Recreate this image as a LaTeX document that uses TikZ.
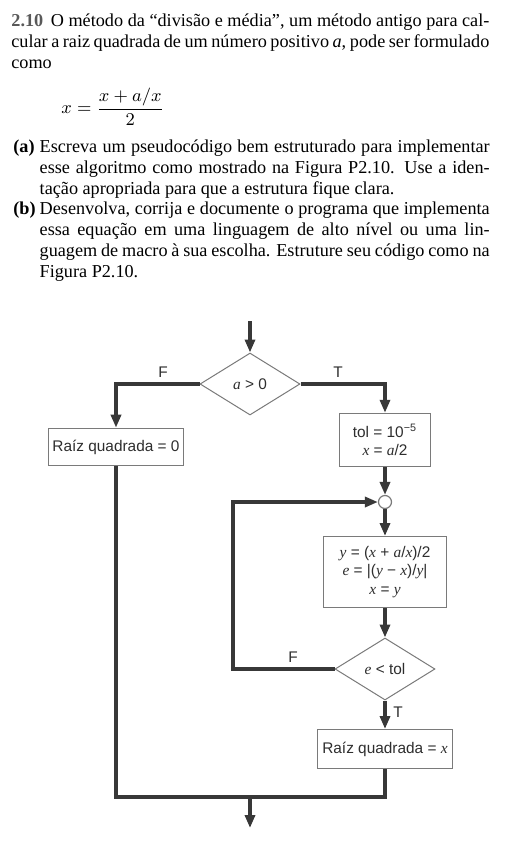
\documentclass[tikz,border=0pt]{standalone}
\usepackage{fontspec}
\setmainfont{Liberation Serif}
\setsansfont{Liberation Sans}
\usepackage{amsmath}
\usepackage{xcolor}
\usetikzlibrary{arrows.meta}
\usetikzlibrary{shapes.geometric}
\definecolor{linegray}{HTML}{383838}
\definecolor{boxgray}{HTML}{7A7A7A}
\definecolor{txtgray}{HTML}{2E2E2E}
\newcommand{\fv}[1]{{\rmfamily\itshape #1}}
\newcommand{\bodyfont}{\fontsize{9.1}{10.5}\selectfont}
\newcommand{\chartfont}{\sffamily\fontsize{7.7}{9.3}\selectfont}

\begin{document}
\begin{tikzpicture}[x=.5pt, y=-.5pt,
  flow/.style={linegray, line width=1.75pt, -{Triangle[length=6.5pt,width=5pt]}},
  plain/.style={linegray, line width=1.75pt},
  procbox/.style={draw=boxgray, line width=.5pt, fill=white, align=center, inner sep=2pt, font=\chartfont, text=txtgray},
  decision/.style={diamond, draw=boxgray, line width=.5pt, fill=white, inner sep=0pt, minimum width=50pt, minimum height=31pt, font=\chartfont, text=txtgray},
  junction/.style={circle, draw=boxgray, line width=.6pt, fill=white, inner sep=0pt, minimum size=6.5pt},
  branch/.style={font=\chartfont, text=txtgray, inner sep=0pt},
  para/.style={anchor=base west, inner sep=0pt, align=justify, font=\bodyfont}]
\useasboundingbox (0,0) rectangle (511,842);

% enunciado
\node[para, text width=239pt] (intro) at (11,26) {\textcolor{black!65}{\textbf{2.10}}\, O método da “divisão e média”, um método antigo para cal-\linebreak cular a raiz quadrada de um número positivo \textit{a}, pode ser formulado\linebreak como};
\node[anchor=west, inner sep=0pt, font=\bodyfont] (formula) at (61,107) {$x = \dfrac{x + a/x}{2}$};

\node[anchor=base west, inner sep=0pt, font=\bodyfont\bfseries] (lbla) at (13,152.7) {(a)};
\node[para, text width=225pt] (itema) at (39.3,152.7) {Escreva um pseudocódigo bem estruturado para implementar\linebreak esse algoritmo como mostrado na Figura P2.10. Use a iden-\linebreak tação apropriada para que a estrutura fique clara.};
\node[anchor=base west, inner sep=0pt, font=\bodyfont\bfseries] (lblb) at (13,214.7) {(b)};
\node[para, text width=225pt] (itemb) at (39.3,214.7) {Desenvolva, corrija e documente o programa que implementa\linebreak essa equação em uma linguagem de alto nível ou uma lin-\linebreak guagem de macro à sua escolha. Estruture seu código como na\linebreak Figura P2.10.};

% fluxograma
\coordinate (in) at (250,321);
\node[decision] (test) at (250,384) {\fv{a} > 0};
\node[procbox, minimum width=67.5pt, minimum height=18.8pt] (zero) at (116,447) {Raíz quadrada = 0};
\node[procbox, minimum width=45.3pt, minimum height=26.7pt] (init) at (385,440) {tol = 10\textsuperscript{−5}\\ \fv{x} = \fv{a}/2};
\node[junction] (loop) at (385,502) {};
\node[procbox, minimum width=61.3pt, minimum height=35.5pt] (iter) at (385,572) {\fv{y} = (\fv{x} + \fv{a}/\fv{x})/2\\ \fv{e} = |(\fv{y} − \fv{x})/\fv{y}|\\ \fv{x} = \fv{y}};
\node[decision] (conv) at (385,669) {\fv{e} < tol};
\node[procbox, minimum width=67.5pt, minimum height=19.5pt] (root) at (385,749) {Raíz quadrada = \fv{x}};
\coordinate (back) at (233,669);
\coordinate (merge) at (250,797);
\coordinate (out) at (250,828);

\draw[flow] (in) -- (test.north);
\draw[flow] (test.west) -| (zero.north);
\draw[flow] (test.east) -| (init.north);
\draw[flow] (init.south) -- (loop.north);
\draw[flow] (loop.south) -- (iter.north);
\draw[flow] (iter.south) -- (conv.north);
\draw[flow] (conv.west) -- (back) |- (loop.west);
\draw[flow] (conv.south) -- (root.north);
\draw[plain] (zero.south) |- (merge) -| (root.south);
\draw[flow] (merge) -- (out);

\node[branch] (f1) at (163,372) {F};
\node[branch] (t1) at (338,372) {T};
\node[branch] (f2) at (293,657) {F};
\node[branch] (t2) at (398,712) {T};
\end{tikzpicture}
\end{document}
